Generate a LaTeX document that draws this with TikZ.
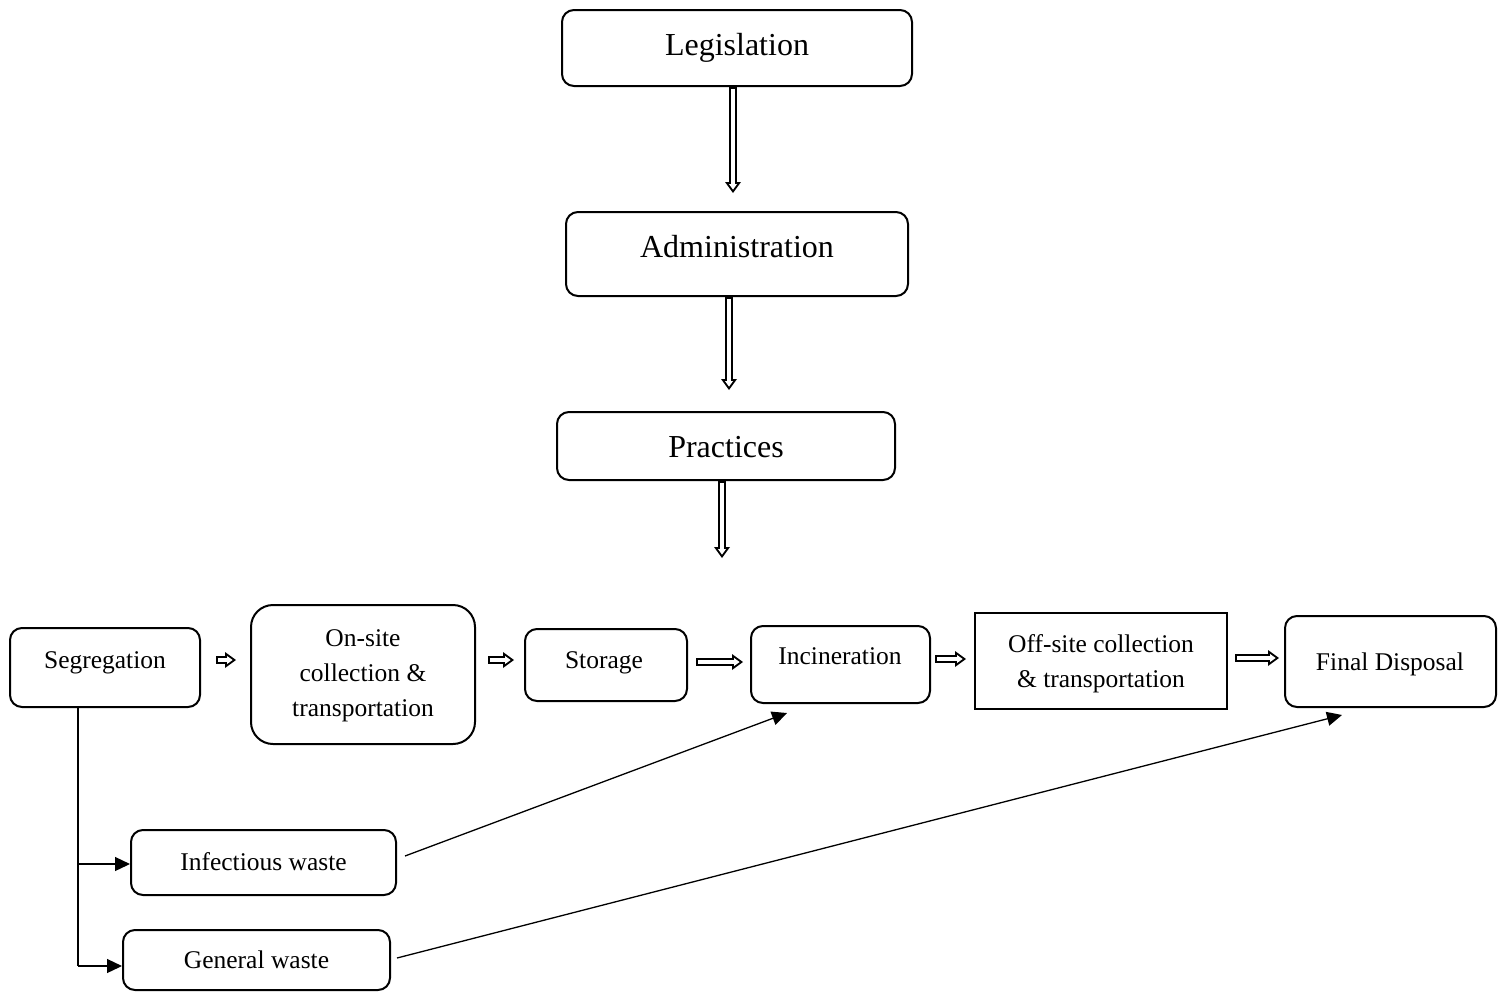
\documentclass[tikz,border=0pt]{standalone}
\usepackage{fontspec}
\setmainfont{Liberation Serif}
\usetikzlibrary{arrows.meta}
\newcommand\blockarrow[2]{%
  \draw[bouter] (#1) -- (#2);
  \draw[binner] (#1) -- (#2);}
\begin{document}
\begin{tikzpicture}[x=1pt,y=-1pt,
  box/.style={draw, line width=2pt, rounded corners=12pt, inner sep=0pt},
  bigtxt/.style={font=\fontsize{32}{38}\selectfont},
  smalltxt/.style={font=\fontsize{25.5}{35}\selectfont, align=center},
  bouter/.style={draw=black, line width=7.5pt, -{Triangle[length=11pt, width=16pt, line width=0pt]}},
  binner/.style={draw=white, line width=3.5pt, shorten <=2pt, shorten >=3.4pt, -{Triangle[length=5.6pt, width=8.1pt, line width=0pt]}},
  tip/.style={line width=1.3pt, -{Triangle[length=15pt,width=14pt]}},
  plain/.style={line width=1.3pt}]
\useasboundingbox (0,0) rectangle (1499,991);
% top boxes
\node[box, minimum width=350pt, minimum height=76pt] (leg) at (737,48) {};
\node[bigtxt] (legt) at (737,48) {Legislation};
\node[box, minimum width=342pt, minimum height=84pt] (adm) at (737,254) {};
\node[bigtxt] (admt) at (737,247) {Administration};
\node[box, minimum width=338pt, minimum height=68pt] (pra) at (726,446) {};
\node[bigtxt] (prat) at (726,447) {Practices};
% process row
\node[box, minimum width=190pt, minimum height=79pt] (seg) at (105,667.5) {};
\node[smalltxt] (segt) at (105,663) {Segregation};
\node[box, rounded corners=22pt, minimum width=224pt, minimum height=139pt] (ons) at (363,674.5) {};
\node[smalltxt] (onst) at (363,676) {On-site\\collection \&\\transportation};
\node[box, minimum width=162pt, minimum height=72pt] (sto) at (606,665) {};
\node[smalltxt] (stot) at (604,663) {Storage};
\node[box, minimum width=179pt, minimum height=77pt] (inc) at (840.5,664.5) {};
\node[smalltxt] (inct) at (840,656) {Incineration};
\node[draw, line width=2pt, inner sep=0pt, minimum width=252pt, minimum height=96pt] (off) at (1101,661) {};
\node[smalltxt] (offt) at (1101,664) {Off-site collection\\\& transportation};
\node[box, minimum width=211pt, minimum height=91pt] (fin) at (1390.5,661.5) {};
\node[smalltxt] (fint) at (1390,664) {Final Disposal};
% waste boxes
\node[box, minimum width=265pt, minimum height=65pt] (inf) at (263.5,862.5) {};
\node[smalltxt] (inft) at (263.5,862) {Infectious waste};
\node[box, minimum width=267pt, minimum height=60pt] (gen) at (256.5,960) {};
\node[smalltxt] (gent) at (256.5,960) {General waste};
% vertical block arrows
\coordinate (e1) at (733,193);
\coordinate (e2) at (729,390);
\coordinate (e3) at (722,558);
\path (leg.south -| e1) coordinate (s1);
\path (adm.south -| e2) coordinate (s2);
\path (pra.south -| e3) coordinate (s3);
\blockarrow{s1}{e1}
\blockarrow{s2}{e2}
\blockarrow{s3}{e3}
% horizontal block arrows
\coordinate (h1) at (0,660);
\coordinate (h2) at (0,662);
\coordinate (h3) at (0,659);
\coordinate (h4) at (0,658);
\path (seg.east |- h1) ++(15,0) coordinate (a1);
\path (ons.west |- h1) ++(-14,0) coordinate (b1);
\path (ons.east |- h1) ++(12,0) coordinate (a2);
\path (sto.west |- h1) ++(-10,0) coordinate (b2);
\path (sto.east |- h2) ++(8,0) coordinate (a3);
\path (inc.west |- h2) ++(-7,0) coordinate (b3);
\path (inc.east |- h3) ++(4,0) coordinate (a4);
\path (off.west |- h3) ++(-8,0) coordinate (b4);
\path (off.east |- h4) ++(7,0) coordinate (a5);
\path (fin.west |- h4) ++(-5,0) coordinate (b5);
\blockarrow{a1}{b1}
\blockarrow{a2}{b2}
\blockarrow{a3}{b3}
\blockarrow{a4}{b4}
\blockarrow{a5}{b5}
% segregation branches
\coordinate (v1) at (78,864);
\coordinate (v2) at (78,966);
\draw[plain] (seg.south -| v2) -- (v2);
\draw[tip] (v1) -- (inf.west |- v1);
\draw[tip] (v2) -- (gen.west |- v2);
% diagonal arrows
\draw[tip] ([xshift=8pt,yshift=6.5pt]inf.east) -- ([xshift=-53.5pt,yshift=-9pt]inc.south);
\draw[tip] ([xshift=6pt,yshift=2pt]gen.east) -- ([xshift=-48.5pt,yshift=-7pt]fin.south);
\end{tikzpicture}
\end{document}
